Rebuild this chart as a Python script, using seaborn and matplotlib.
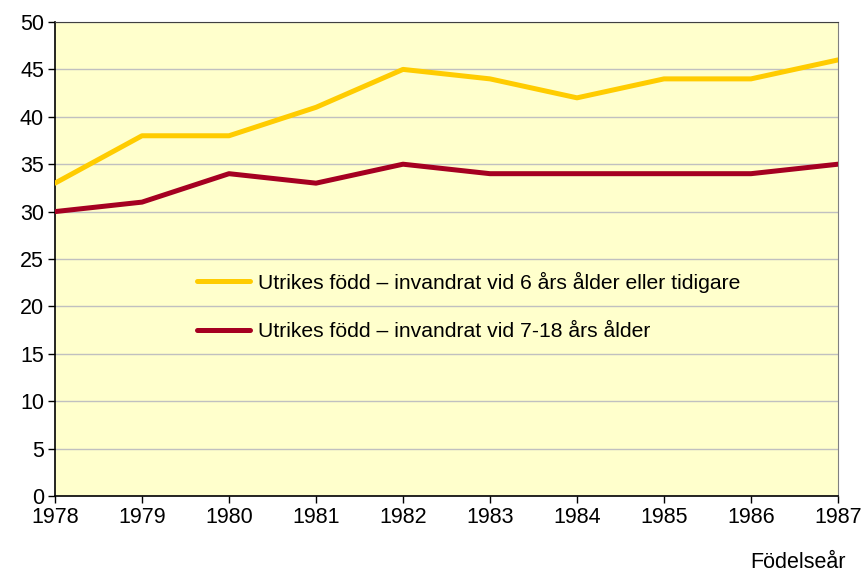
import pandas as pd
import numpy as np
import seaborn as sns
import matplotlib.pyplot as plt

years = [1978, 1979, 1980, 1981, 1982, 1983, 1984, 1985, 1986, 1987]
early = [33, 38, 38, 41, 45, 44, 42, 44, 44, 46]
late = [30, 31, 34, 33, 35, 34, 34, 34, 34, 35]
labels = ["Utrikes född – invandrat vid 6 års ålder eller tidigare",
          "Utrikes född – invandrat vid 7-18 års ålder"]
colors = ["#FFCC00", "#A50021"]

df = pd.DataFrame({
    "year": years * 2,
    "value": early + late,
    "group": [labels[0]] * len(years) + [labels[1]] * len(years),
})

sns.set_style("white")
plt.rcParams['font.family'] = ['Liberation Sans', 'DejaVu Sans']
plt.rcParams['text.color'] = 'black'
plt.rcParams['xtick.color'] = 'black'
plt.rcParams['ytick.color'] = 'black'

fs = 15.5
fig = plt.figure(figsize=(8.62, 5.72), dpi=100)
ax = fig.add_axes([55 / 862, 1 - 496 / 572, (838 - 55) / 862, (496 - 22) / 572])
ax.set_facecolor("#FFFFCC")

sns.lineplot(data=df, x="year", y="value", hue="group", palette=colors,
             linewidth=3.6, ax=ax, zorder=3)

ax.set_xlim(1978, 1987)
ax.set_ylim(0, 50)
ax.set_xticks(years)
ax.set_yticks(np.arange(0, 51, 5))
ax.yaxis.grid(True, color="#C0C0C0", linewidth=1)
ax.set_axisbelow(True)
ax.tick_params(axis="both", labelsize=fs, direction="out", length=5,
               width=1, colors="black", bottom=True, left=True, pad=3)
for side in ["left", "bottom"]:
    ax.spines[side].set_color("black")
    ax.spines[side].set_linewidth(1.2)
ax.spines["top"].set_color("#404040")
ax.spines["right"].set_color("#808080")
ax.set_xlabel("")
ax.set_ylabel("")
fig.text(846 / 862, 1 - 568 / 572, "Födelseår", ha="right", va="baseline",
         fontsize=fs)

leg = ax.legend(loc="center left", bbox_to_anchor=(197 / 862, 1 - 306.5 / 572),
                bbox_transform=fig.transFigure, frameon=False, fontsize=15.2,
                handlelength=2.5, handletextpad=0.38, labelspacing=1.4,
                borderpad=0, borderaxespad=0)

fig.savefig("out.png", dpi=100)
